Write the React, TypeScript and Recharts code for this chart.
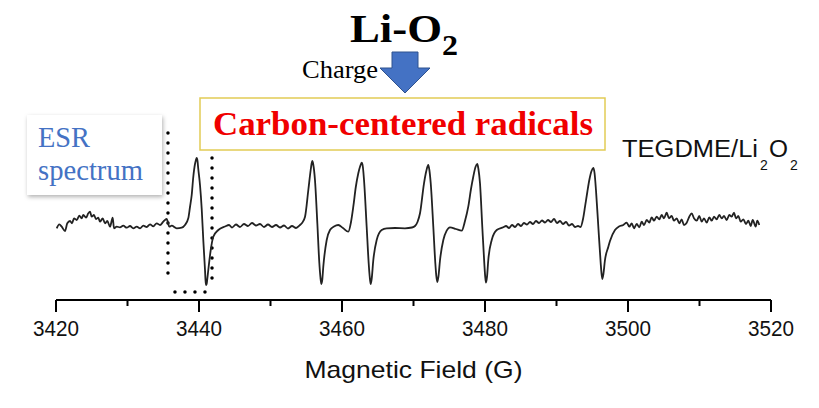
import { LineChart, Line, XAxis, YAxis, ReferenceLine } from 'recharts';

// magnetic field (G) and ESR signal (a.u.)
const fieldG = [
  3420.10, 3420.46, 3420.80, 3421.26, 3421.58, 3421.96, 3422.24, 3422.52, 3422.90, 3423.26,
  3423.59, 3423.82, 3424.20, 3424.52, 3424.76, 3424.99, 3425.31, 3425.59, 3425.92, 3426.15,
  3426.53, 3426.85, 3427.17, 3427.55, 3427.93, 3428.11, 3428.49, 3428.95, 3429.41, 3429.89,
  3430.35, 3430.81, 3431.29, 3431.75, 3432.21, 3432.69, 3433.15, 3433.61, 3434.08, 3434.55,
  3435.01, 3435.48, 3435.85, 3436.18, 3436.88, 3437.58, 3438.04, 3438.50,
  // first line
  3438.74, 3438.98, 3439.20, 3439.44, 3439.57, 3439.68, 3439.79, 3439.90, 3440.14, 3440.38,
  3440.60, 3440.84, 3440.91, 3440.98, 3441.07, 3441.16, 3441.30, 3441.64, 3442.00, 3442.70,
  3443.64, 3444.20, 3444.62, 3445.17, 3445.73, 3446.29, 3446.85, 3447.41, 3447.97, 3448.53,
  3449.09, 3449.65, 3450.21, 3450.77, 3451.33, 3451.89, 3452.45, 3453.01, 3453.57, 3454.13,
  3454.41,
  // pair 1
  3454.83, 3455.29, 3455.62, 3455.74, 3455.85, 3455.97, 3456.22, 3456.55, 3456.83, 3456.98,
  3457.11, 3457.24, 3457.38, 3457.86, 3458.32, 3458.88, 3459.48, 3460.14, 3460.88, 3461.26,
  3461.58, 3461.93, 3462.28, 3462.55, 3462.76, 3462.92, 3463.08, 3463.45, 3463.73, 3463.88,
  3464.01, 3464.15, 3464.38, 3464.85, 3465.55, 3466.25, 3467.41, 3468.81, 3469.79, 3470.21,
  // pair 2
  3470.56, 3470.91, 3471.47, 3471.79, 3472.07, 3472.22, 3472.41, 3472.77, 3473.05, 3473.19,
  3473.33, 3473.48, 3473.71, 3474.17, 3474.64, 3475.10, 3475.94, 3476.74, 3477.20, 3477.66,
  3478.04, 3478.36, 3478.67, 3478.92, 3479.08, 3479.30, 3479.62, 3479.90, 3480.02, 3480.14,
  3480.28, 3480.46, 3480.94, 3481.64, 3482.56,
  3482.94, 3483.36, 3483.78, 3484.20, 3484.62, 3485.03, 3485.45, 3485.87, 3486.29, 3486.71,
  3487.13, 3487.55, 3487.97, 3488.39, 3488.81, 3489.23, 3489.65, 3490.07, 3490.49, 3490.91,
  3491.33, 3491.75, 3492.17, 3492.59, 3493.01, 3493.36,
  // last line
  3493.71, 3493.99, 3494.31, 3494.59, 3494.90, 3495.15, 3495.32, 3495.52, 3495.85, 3496.18,
  3496.29, 3496.41, 3496.56, 3496.78, 3497.24, 3497.48, 3498.18, 3498.74,
  3499.34, 3499.82, 3500.18, 3500.52, 3500.84, 3501.22, 3501.58, 3501.92, 3502.24, 3502.62,
  3502.98, 3503.31, 3503.64, 3504.01, 3504.38, 3504.71, 3505.03, 3505.41, 3505.73, 3506.11,
  3506.43, 3506.81, 3507.17, 3507.51, 3507.83, 3508.21, 3508.57, 3508.91, 3509.23, 3509.61,
  3509.97, 3510.31, 3510.63, 3511.01, 3511.37, 3511.71, 3512.03, 3512.40, 3512.77, 3513.10,
  3513.43, 3513.80, 3514.17, 3514.50, 3514.83, 3515.10, 3515.43, 3515.76, 3516.13, 3516.50,
  3516.83, 3517.16, 3517.44, 3517.86, 3518.08, 3518.36,
];

const signal = [
  -1.3, 2.7, 0.3, -4, 3.7, 6, 3.7, 8.7, 7, 11.3,
  8.7, 12, 9.3, 13.7, 15.3, 10.3, 12, 8, 9.3, 5.3,
  8.7, 3.7, 6, 0.3, 9.3, -1.3, 0.3, -0.3, 1.3, -0.7,
  1, -1.3, 0.3, -1.3, 1.3, 0, 2.7, 0.7, 3.7, 2,
  5.3, 8, 0.3, 1.3, -1.3, -0.7, 2, 8.7,
  20, 32, 50, 63, 67, 69, 66, 58, 42, 18,
  -13, -43, -53, -58, -57, -52, -43, -23, -9.7, -3,
  0.5, 2, -0.5, 2.5, 0, 3, 1, 4, 1.5, 3,
  0, 2.5, 0, 2, -0.5, 1.5, -1.5, 1, -1, 2,
  4,
  10.3, 37, 57, 63, 66, 63, 47, 3.7, -36, -50,
  -57, -53, -40, -13, -3, 0.5, 2, -1, -4.7, 5,
  20.3, 40, 53.7, 61, 64.3, 60, 47, 0.3, -36, -50,
  -57, -52, -33, -13, -3, -1.3, -1, -1.3, -0.5, 1,
  5, 13.7, 43.7, 56, 62, 57, 43.7, 0.3, -36, -49,
  -55, -50, -33, -13, -3.7, -0.3, -2, -3.7, 6, 20.3,
  38, 50.3, 60, 63, 58, 43.7, 0.3, -36, -49, -55.7,
  -50, -33, -13, -3, -0.3,
  1, -1, 2, 0, 3, 1, 4, 2.5, 5, 3,
  6, 4, 6.5, 4.5, 7, 5, 8, 4, 6, 3,
  5, 1.5, 3, 0, 1, 0,
  8, 20.3, 35, 47, 56, 59, 54, 37, 0.3, -36,
  -46, -52, -47, -33, -20, -14, -3, 0.5,
  2, 4.3, 0.3, 3.7, -1.3, 3, -0.3, 5.3, 2, 7,
  4.3, 9.7, 6.3, 10.3, 7.7, 12, 8.7, 14.3, 8.7, 11,
  6.3, 8.7, 3.7, 7.7, 2, 4.3, 10.3, 13.7, 8.7, 6.3,
  11, 5.3, 8.7, 4.3, 9.7, 6.3, 10.3, 7.7, 12, 8.7,
  11, 7, 12, 10.3, 14.3, 8.7, 11, 5.3, 7.7, 3,
  6.3, 1, 7, 0.3, 6.3, 2,
];

const fieldTicks = [3420, 3430, 3440, 3450, 3460, 3470, 3480, 3490, 3500, 3510, 3520];

const spectrum = fieldG.map((b, i) => ({ field: b, esr: signal[i] }));

// dotted frame around the first line, in data coordinates
const frameEdges = [
  [{ x: 3435.66, y: 94 }, { x: 3435.66, y: -50 }],
  [{ x: 3441.82, y: 89 }, { x: 3441.82, y: -56 }],
  [{ x: 3436.64, y: -65 }, { x: 3441.26, y: -65 }],
];

const SANS = '"Liberation Sans", Arial, sans-serif';
const SERIF = '"Liberation Serif", "Times New Roman", serif';

const FieldTick = (props: any) => {
  const { x, y, payload } = props;
  const major = payload.value % 20 === 0;
  return (
    <g>
      <line x1={x} x2={x} y1={y} y2={y + (major ? 12 : 6)} stroke="#000" strokeWidth={2} />
      {major && (
        <text x={x} y={y + 36} textAnchor="middle" fontFamily={SANS} fontSize={22}
          textLength={46} lengthAdjust="spacingAndGlyphs" fill="#111">
          {payload.value}
        </text>
      )}
    </g>
  );
};

const AxisTitle = (props: any) => {
  const vb = props.viewBox;
  return (
    <text x={vb.x + vb.width / 2} y={vb.y + 78} textAnchor="middle" fontFamily={SANS}
      fontSize={24} textLength={218} lengthAdjust="spacingAndGlyphs" fill="#111">
      Magnetic Field (G)
    </text>
  );
};

export default function App() {
  return (
    <div style={{ position: 'absolute', left: 0, top: 0, width: 819, height: 408, background: '#fff' }}>
      <LineChart width={819} height={408} data={spectrum}
        margin={{ top: 120, right: 48, bottom: 28, left: 56 }}>
        <XAxis dataKey="field" type="number" domain={[3420, 3520]} ticks={fieldTicks}
          interval={0} height={80} tickSize={0} tickMargin={0} tick={<FieldTick />}
          axisLine={{ stroke: '#000', strokeWidth: 2 }} label={<AxisTitle />} />
        <YAxis type="number" domain={[-73, 107]} hide />
        {frameEdges.map((seg, i) => (
          <ReferenceLine key={i} segment={seg} stroke="#000" strokeWidth={3.5}
            strokeDasharray="0 10" strokeLinecap="round" ifOverflow="visible" />
        ))}
        <Line type="monotone" dataKey="esr" stroke="#222" strokeWidth={1.8}
          dot={false} isAnimationActive={false} />
      </LineChart>

      <svg width={819} height={408} style={{ position: 'absolute', left: 0, top: 0, pointerEvents: 'none' }}>
        <defs>
          <filter id="shadow" x="-20%" y="-20%" width="140%" height="150%">
            <feDropShadow dx="1" dy="2" stdDeviation="2" floodColor="#000" floodOpacity="0.3" />
          </filter>
        </defs>

        <text x={350} y={42} fontFamily={SERIF} fontWeight="bold" fontSize={40}
          textLength={92} lengthAdjust="spacingAndGlyphs" fill="#000">Li-O</text>
        <text x={442} y={55} fontFamily={SERIF} fontWeight="bold" fontSize={30}
          textLength={16} lengthAdjust="spacingAndGlyphs" fill="#000">2</text>

        <text x={302} y={78} fontFamily={SERIF} fontSize={25}
          textLength={76} lengthAdjust="spacingAndGlyphs" fill="#000">Charge</text>
        <polygon points="392,52 418,52 418,68 430,68 405,93 380,68 392,68"
          fill="#4472C4" stroke="#2F528F" strokeWidth={1} />

        <rect x={200} y={98} width={405} height={52} fill="#fff" stroke="#E2CC55" strokeWidth={1.5} />
        <text x={213} y={135} fontFamily={SERIF} fontWeight="bold" fontSize={33}
          textLength={380} lengthAdjust="spacingAndGlyphs" fill="#F00000">Carbon-centered radicals</text>

        <rect x={27} y={115} width={135} height={80} fill="#fff" filter="url(#shadow)" />
        <text x={38} y={147} fontFamily={SERIF} fontSize={29}
          textLength={52} lengthAdjust="spacingAndGlyphs" fill="#4472C4">ESR</text>
        <text x={38} y={180} fontFamily={SERIF} fontSize={29}
          textLength={105} lengthAdjust="spacingAndGlyphs" fill="#4472C4">spectrum</text>

        <text x={622} y={157} fontFamily={SANS} fontSize={23}
          textLength={136} lengthAdjust="spacingAndGlyphs" fill="#111">TEGDME/Li</text>
        <text x={760} y={170} fontFamily={SANS} fontSize={14} fill="#111">2</text>
        <text x={769} y={157} fontFamily={SANS} fontSize={23}
          textLength={19} lengthAdjust="spacingAndGlyphs" fill="#111">O</text>
        <text x={790} y={170} fontFamily={SANS} fontSize={14} fill="#111">2</text>
      </svg>
    </div>
  );
}
